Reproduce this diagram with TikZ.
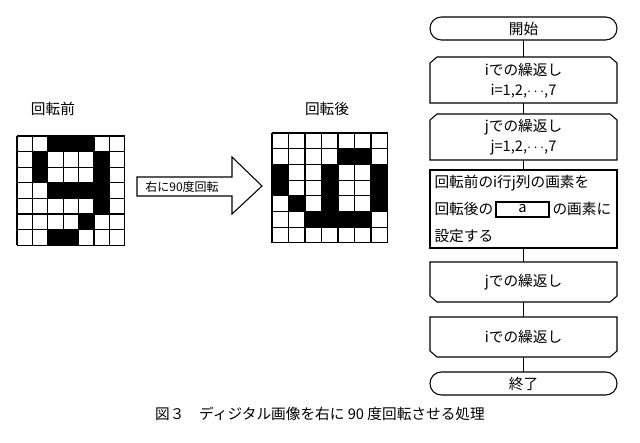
\documentclass[tikz,border=0pt]{standalone}
\usepackage{fontspec}
\newfontfamily\jp{Noto Sans CJK JP}
\setmainfont{Liberation Serif}
\begin{document}
\begin{tikzpicture}[x=0.75pt,y=-0.75pt,line width=0.8pt,
  t/.style={font=\jp\fontsize{11}{13}\selectfont,inner sep=0pt},
  s/.style={font=\jp\fontsize{9}{11}\selectfont,inner sep=0pt}]
\useasboundingbox (0,0) rectangle (640,443);
% left grid
\def\gx{17}\def\gy{136}\def\cw{15.4}\def\ch{15.6}
\foreach \r/\cs in {1/{3,4,5},2/{2,6},3/{2,6},4/{3,4,5,6},5/{6},6/{5},7/{3,4}}{
  \foreach \c in \cs {\fill (\gx+\c*\cw-\cw,\gy+\r*\ch-\ch) rectangle ++(\cw,\ch);}}
\foreach \i in {0,...,7}{
  \draw (\gx+\i*\cw,\gy) -- (\gx+\i*\cw,\gy+7*\ch);
  \draw (\gx,\gy+\i*\ch) -- (\gx+7*\cw,\gy+\i*\ch);}
% right grid
\def\hx{272}\def\hy{133}\def\dw{16.5}\def\dh{15.7}
\foreach \r/\cs in {2/{5,6},3/{1,4,7},4/{1,4,7},5/{2,4,7},6/{3,4,5,6}}{
  \foreach \c in \cs {\fill (\hx+\c*\dw-\dw,\hy+\r*\dh-\dh) rectangle ++(\dw,\dh);}}
\foreach \i in {0,...,7}{
  \draw (\hx+\i*\dw,\hy) -- (\hx+\i*\dw,\hy+7*\dh);
  \draw (\hx,\hy+\i*\dh) -- (\hx+7*\dw,\hy+\i*\dh);}
\node[t] (lb1) at (53,109) {回転前};
\node[t] (lb2) at (327,109) {回転後};
% block arrow
\draw (137,177) -- (232,177) -- (232,157) -- (262,186) -- (232,214) -- (232,196) -- (137,196) -- cycle;
\node[s] (arr) at (182,187) {右に90度回転};
% flowchart
\def\L{430}\def\R{617}\def\C{523.5}
\draw[rounded corners=8.5pt] (\L,17) rectangle (\R,40);
\node[t] (start) at (\C,28.5) {開始};
\draw (\L,103) -- (\L,63) -- (\L+7,57) -- (\R-7,57) -- (\R,63) -- (\R,103) -- cycle;
\node[t] (l1a) at (\C,70) {iでの繰返し};
\node[t] (l1b) at (\C,91) {i=1,2,$\cdots$,7};
\draw (\L,160) -- (\L,120) -- (\L+7,114) -- (\R-7,114) -- (\R,120) -- (\R,160) -- cycle;
\node[t] (l2a) at (\C,127) {jでの繰返し};
\node[t] (l2b) at (\C,148) {j=1,2,$\cdots$,7};
\draw (\L,170) rectangle (\R,248);
\node[t,anchor=west] (p1) at (434,183) {回転前のi行j列の画素を};
\node[t,anchor=west] (p2a) at (434,209) {回転後の};
\draw[line width=1.4pt] (496,202) rectangle (549,217);
\node[t] (pa) at (522.5,209) {a};
\node[t,anchor=west] (p2b) at (552,209) {の画素に};
\node[t,anchor=west] (p3) at (434,236) {設定する};
\draw (\L,262) -- (\R,262) -- (\R,296) -- (\R-7,302) -- (\L+7,302) -- (\L,296) -- cycle;
\node[t] (e2) at (\C,282) {jでの繰返し};
\draw (\L,317) -- (\R,317) -- (\R,351) -- (\R-7,357) -- (\L+7,357) -- (\L,351) -- cycle;
\node[t] (e1) at (\C,337) {iでの繰返し};
\draw[rounded corners=8.5pt] (\L,372) rectangle (\R,395);
\node[t] (end) at (\C,383.5) {終了};
\foreach \a/\b in {40/57,103/114,160/170,248/262,302/317,357/372}
  \draw (\C,\a) -- (\C,\b);
\node[t] (cap) at (320,414) {図３　ディジタル画像を右に 90 度回転させる処理};
\end{tikzpicture}
\end{document}
